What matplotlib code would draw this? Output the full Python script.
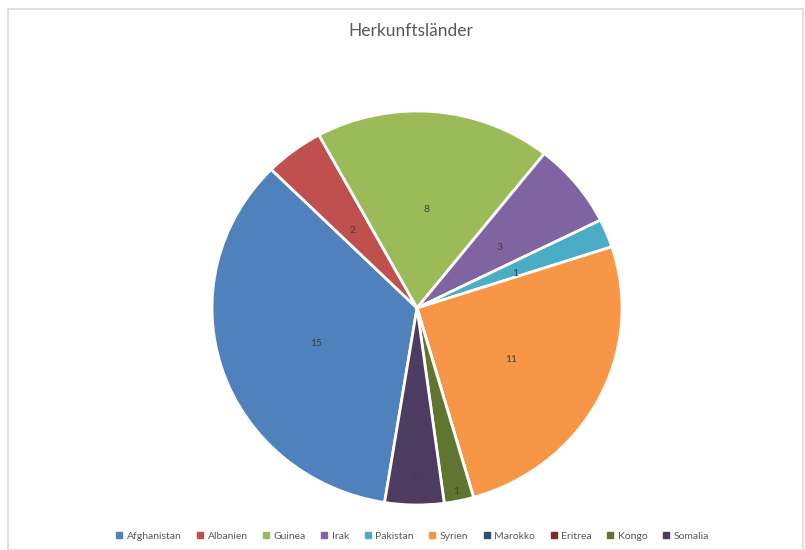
import matplotlib.pyplot as plt
import numpy as np
from matplotlib.patches import Rectangle
from matplotlib.lines import Line2D

plt.rcParams['font.family'] = ['Lato', 'DejaVu Sans']

countries = ['Afghanistan', 'Albanien', 'Guinea', 'Irak', 'Pakistan',
             'Syrien', 'Marokko', 'Eritrea', 'Kongo', 'Somalia']
counts = [15, 2, 8, 3, 1, 11, 0, 0, 1, 2]
colors = ['#4F81BD', '#C0504D', '#9BBB59', '#8064A2', '#4BACC6',
          '#F79646', '#2C4D75', '#772C2A', '#5F7530', '#4D3B62']
# Excel "best fit" pushes the small bottom labels outward
label_dist = [0.52, 0.52, 0.52, 0.52, 0.52, 0.52, 0.5, 0.5, 0.93, 0.84]

fig = plt.figure(figsize=(8.05, 5.5), dpi=100)
fig.patches.append(Rectangle((8 / 805, 0), 795 / 805, 541 / 550, transform=fig.transFigure,
                             fill=False, edgecolor='#d9d9d9', linewidth=1.2))

# the reference pie is slightly stretched horizontally
ax = fig.add_axes([212 / 805, 45 / 550, 410 / 805, 394 / 550])
wedges, _ = ax.pie(counts, colors=colors, startangle=-99.1, counterclock=False, radius=1,
                   wedgeprops=dict(edgecolor='white', linewidth=2))
for w, c, d in zip(wedges, counts, label_dist):
    if c == 0:
        continue
    mid = np.deg2rad((w.theta1 + w.theta2) / 2)
    ax.text(d * np.cos(mid), d * np.sin(mid) - 0.02, str(c), ha='center', va='center',
            fontsize=7.5, color='#404040')
ax.set_xlim(-1, 1)
ax.set_ylim(-1, 1)
ax.set_aspect('auto')

fig.text(411 / 805, 1 - 31 / 550, 'Herkunftsländer', ha='center', va='center',
         fontsize=12.5, color='#595959')

handles = [Line2D([], [], marker='s', linestyle='', markersize=4.5,
                  markerfacecolor=c, markeredgecolor=c) for c in colors]
fig.legend(handles, countries, loc='center', bbox_to_anchor=(412 / 805, 1 - 536 / 550),
           ncol=10, frameon=False, fontsize=7.5, labelcolor='#595959',
           handlelength=0.8, handletextpad=0.35, columnspacing=1.35)

fig.savefig('out.png', dpi=100)
